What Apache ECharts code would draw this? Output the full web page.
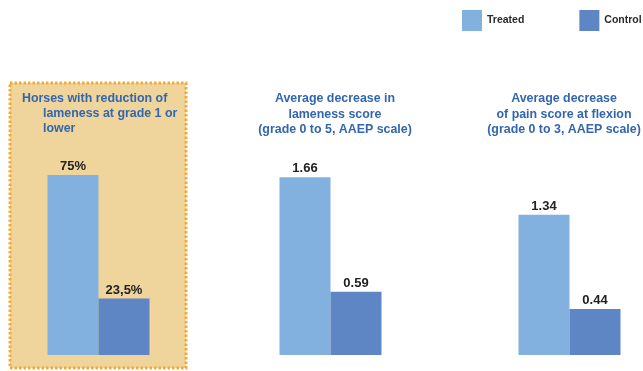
<!DOCTYPE html>
<html><head><meta charset="utf-8">
<script src="https://cdn.jsdelivr.net/npm/echarts@6/dist/echarts.min.js"></script>
<style>html,body{margin:0;padding:0;background:#fff}#c{width:643px;height:371px}</style>
</head><body><div id="c"></div>
<script>
const seriesNames = ['Treated', 'Control'];
const panelTitles = [
  ['Horses with reduction of', 'lameness at grade 1 or', 'lower'],
  ['Average decrease in', 'lameness score', '(grade 0 to 5, AAEP scale)'],
  ['Average decrease', 'of pain score at flexion', '(grade 0 to 3, AAEP scale)']
];
const treatedValues = [75, 1.66, 1.34];
const controlValues = [23.5, 0.59, 0.44];
const valueLabels = [['75%', '23,5%'], ['1.66', '0.59'], ['1.34', '0.44']];

const colors = ['#82b1df', '#5f86c4'];
const titleColor = '#3266ae';
const font = 'Liberation Sans, Arial, sans-serif';
const gridLefts = [47, 279, 518];
const axisMax = [75, 1.68, 1.72];

const grids = [], xAxes = [], yAxes = [], series = [];
for (let i = 0; i < 3; i++) {
  grids.push({left: gridLefts[i], width: 103, top: 175, bottom: 16});
  xAxes.push({type: 'category', gridIndex: i, data: ['p' + i], show: false});
  yAxes.push({type: 'value', gridIndex: i, min: 0, max: axisMax[i], show: false});
  [treatedValues, controlValues].forEach((vals, s) => {
    series.push({
      type: 'bar', name: seriesNames[s], xAxisIndex: i, yAxisIndex: i,
      data: [vals[i]], barWidth: 51, barGap: '0%',
      itemStyle: {color: colors[s]},
      label: {show: true, position: 'top', distance: 2,
        formatter: () => valueLabels[i][s],
        fontFamily: font, fontWeight: 'bold', fontSize: 13, color: '#222'}
    });
  });
}

const tFont = 'bold 12.4px ' + font;
const graphics = [{
  type: 'rect', z: -10,
  shape: {x: 10, y: 83, width: 176, height: 285},
  style: {fill: '#efd49c', stroke: '#f3ab38', lineWidth: 3, lineDash: [2.5, 2]}
}];
// panel 1 title (hanging indent)
graphics.push({type: 'text', x: 22, y: 99, style: {text: panelTitles[0][0], fill: titleColor,
  font: tFont, textVerticalAlign: 'middle'}});
graphics.push({type: 'text', x: 43, y: 114, style: {text: panelTitles[0][1], fill: titleColor,
  font: tFont, textVerticalAlign: 'middle'}});
graphics.push({type: 'text', x: 43, y: 129, style: {text: panelTitles[0][2], fill: titleColor,
  font: tFont, textVerticalAlign: 'middle'}});
const centers = [null, 335, 564];
for (let i = 1; i < 3; i++) {
  panelTitles[i].forEach((t, j) => {
    graphics.push({type: 'text', x: centers[i], y: 99 + j * 15.3, style: {text: t, fill: titleColor,
      font: tFont, textAlign: 'center', textVerticalAlign: 'middle'}});
  });
}

const chart = echarts.init(document.getElementById('c'));
chart.setOption({
  animation: false,
  legend: {
    data: seriesNames, left: 462, top: 10, padding: 0,
    icon: 'rect', itemWidth: 20, itemHeight: 21, itemGap: 55, itemStyle: {borderWidth: 0},
    textStyle: {fontFamily: font, fontWeight: 'bold', fontSize: 10.5, color: '#2a2a2a'}
  },
  grid: grids, xAxis: xAxes, yAxis: yAxes, series: series, graphic: graphics
});
</script></body></html>
